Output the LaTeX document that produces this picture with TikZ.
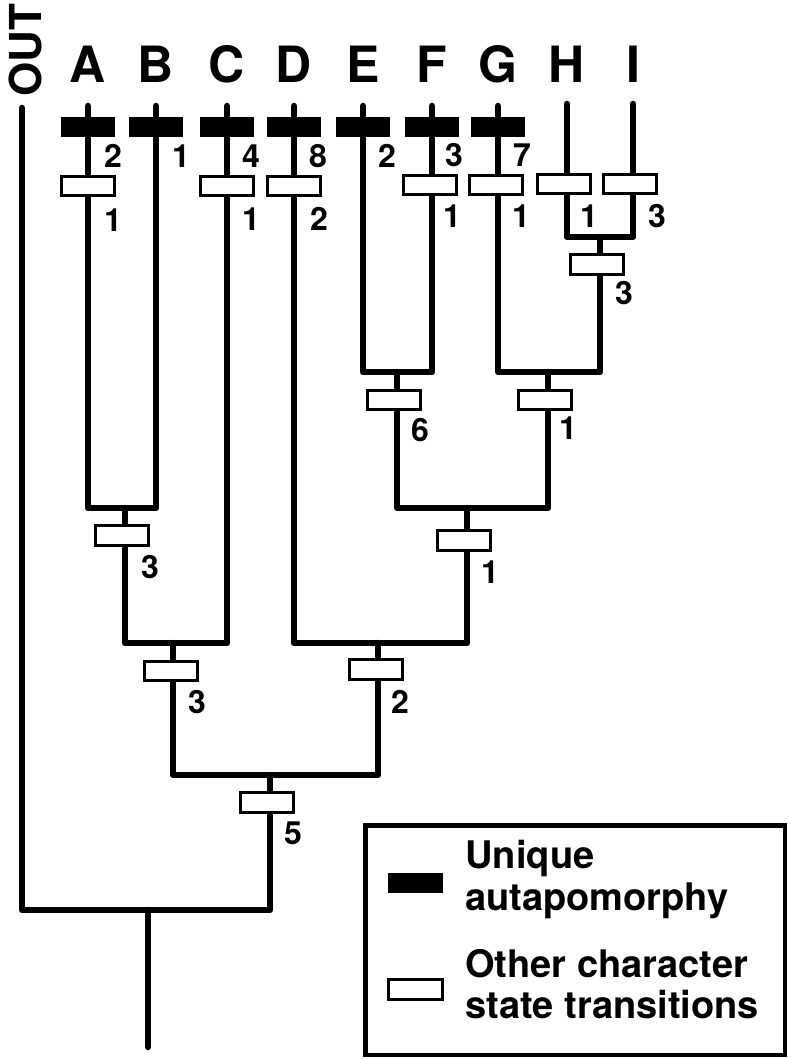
\documentclass[tikz,border=0pt]{standalone}
\usepackage{fontspec}
\setmainfont{TeX Gyre Heros}
\begin{document}
\begin{tikzpicture}[x=1pt,y=-1pt,
  tree/.style={line width=6.5pt, line cap=round, line join=round},
  obox/.style={draw, fill=white, line width=2.8pt, minimum width=53.5pt, minimum height=19.5pt, inner sep=0pt},
  bbar/.style={fill=black, minimum width=54pt, minimum height=20pt, inner sep=0pt},
  lab/.style={font=\fontsize{32}{32}\selectfont\bfseries, inner sep=0pt},
  taxon/.style={font=\fontsize{50}{50}\selectfont\bfseries, inner sep=0pt, anchor=base},
  legtext/.style={font=\fontsize{38}{38}\selectfont\bfseries, inner sep=0pt, anchor=base west}]
\useasboundingbox (0,0) rectangle (790,1059);

% taxon names
\node[taxon, rotate=90, font=\fontsize{44}{44}\selectfont\bfseries] (nOUT) at (41,50) {OUT};
\node[taxon] (nA) at (88,83) {A};
\node[taxon] (nB) at (156,83) {B};
\node[taxon] (nC) at (227,83) {C};
\node[taxon] (nD) at (294,83) {D};
\node[taxon] (nE) at (363,83) {E};
\node[taxon] (nF) at (432,83) {F};
\node[taxon] (nG) at (498,83) {G};
\node[taxon] (nH) at (567,83) {H};
\node[taxon] (nI) at (633,83) {I};

% tips
\coordinate (tOUT) at (22,108);
\coordinate (tA) at (88,106);
\coordinate (tB) at (156,106);
\coordinate (tC) at (227,106);
\coordinate (tD) at (294,106);
\coordinate (tE) at (363,106);
\coordinate (tF) at (432,106);
\coordinate (tG) at (498,106);
\coordinate (tH) at (567,104);
\coordinate (tI) at (633,104);

% joins
\coordinate (jHI) at (600,237);
\coordinate (jEF) at (397,372);
\coordinate (jGHI) at (548,372);
\coordinate (jEFGHI) at (467,508);
\coordinate (jAB) at (125,508);
\coordinate (jABC) at (173,643);
\coordinate (jDEFGHI) at (378,643);
\coordinate (jIN) at (270,775);
\coordinate (jROOT) at (148,910);
\coordinate (base) at (148,1047);

% branches
\draw[tree] (tA) |- (jAB) -| (tB);
\draw[tree] (jAB) |- (jABC) -| (tC);
\draw[tree] (tH) |- (jHI) -| (tI);
\draw[tree] (tE) |- (jEF) -| (tF);
\draw[tree] (tG) |- (jGHI) -| (jHI);
\draw[tree] (jEF) |- (jEFGHI) -| (jGHI);
\draw[tree] (tD) |- (jDEFGHI) -| (jEFGHI);
\draw[tree] (jABC) |- (jIN) -| (jDEFGHI);
\draw[tree] (tOUT) |- (jROOT) -| (jIN);
\draw[tree] (jROOT) -- (base);

% unique autapomorphies
\node[bbar] (bA) at (88,127) {};
\node[bbar] (bB) at (156,127) {};
\node[bbar] (bC) at (227,127) {};
\node[bbar] (bD) at (294,127) {};
\node[bbar] (bE) at (363,127) {};
\node[bbar] (bF) at (432,127) {};
\node[bbar] (bG) at (498,127) {};

% other transitions
\node[obox] (oA) at (88,186) {};
\node[obox] (oC) at (227,186) {};
\node[obox] (oD) at (294,186) {};
\node[obox] (oF) at (430,185) {};
\node[obox] (oG) at (496,185) {};
\node[obox] (oH) at (564,184) {};
\node[obox] (oI) at (630,184) {};
\node[obox] (oHI) at (597,264.5) {};
\node[obox] (oEF) at (394,400) {};
\node[obox] (oGHI) at (545,400) {};
\node[obox] (oEFGHI) at (464,540.5) {};
\node[obox] (oAB) at (122,535.5) {};
\node[obox] (oABC) at (171,671) {};
\node[obox] (oDEFGHI) at (376,669.5) {};
\node[obox] (oIN) at (267,802.5) {};

% counts
\node[lab] (uA) at (113,156) {2};
\node[lab] (uB) at (181,156) {1};
\node[lab] (uC) at (251,156) {4};
\node[lab] (uD) at (318,156) {8};
\node[lab] (uE) at (387,156) {2};
\node[lab] (uF) at (454,155) {3};
\node[lab] (uG) at (522,155) {7};
\node[lab] (lA) at (113,220) {1};
\node[lab] (lC) at (251,219) {1};
\node[lab] (lD) at (319,219) {2};
\node[lab] (lF) at (452,216) {1};
\node[lab] (lG) at (521,216) {1};
\node[lab] (lH) at (589,216) {1};
\node[lab] (lI) at (657,216) {3};
\node[lab] (lHI) at (624,293) {3};
\node[lab] (lEF) at (420,430) {6};
\node[lab] (lGHI) at (568,428) {1};
\node[lab] (lEFGHI) at (490,572) {1};
\node[lab] (lAB) at (150,567) {3};
\node[lab] (lABC) at (197,702) {3};
\node[lab] (lDEFGHI) at (400,702) {2};
\node[lab] (lIN) at (293,833) {5};

% legend
\node[draw, line width=4.5pt, minimum width=419.5pt, minimum height=229.5pt, inner sep=0pt] (legend) at (575,940) {};
\node[bbar, minimum width=55pt] (lgb) at (415.5,883) {};
\node[obox] (lgo) at (415.5,989.5) {};
\node[legtext] (lt1) at (465,868) {Unique};
\node[legtext] (lt2) at (465,910) {autapomorphy};
\node[legtext] (lt3) at (465,977) {Other character};
\node[legtext] (lt4) at (465,1018) {state transitions};
\end{tikzpicture}
\end{document}
